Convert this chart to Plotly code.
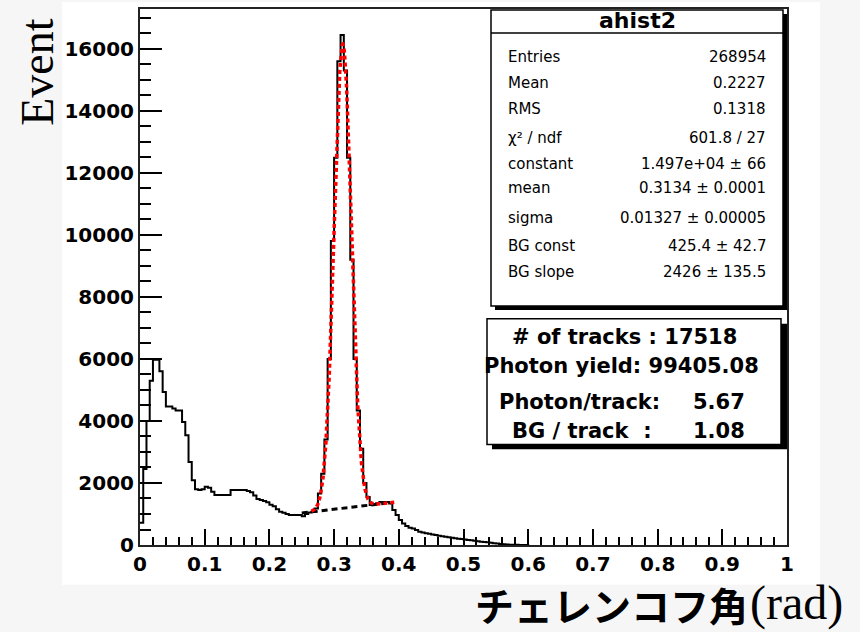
import numpy as np
import plotly.graph_objects as go

# ---------------- data ----------------
BIN_WIDTH = 0.005
counts = [
    720, 2450, 4000, 5300, 5970, 5970, 5600, 4930, 4470, 4470,
    4400, 4340, 4340, 3965, 3540, 2680, 2090, 1800, 1770, 1800,
    1880, 1850, 1715, 1610, 1610, 1610, 1610, 1610, 1770, 1770,
    1770, 1770, 1770, 1740, 1700, 1600, 1480, 1450, 1420, 1380,
    1300, 1250, 1150, 1070, 1040, 1000, 965, 965, 965, 965,
    930, 1000, 1050, 1070, 1180, 1660, 2300, 3400, 6000, 9800,
    12490, 15600, 16450, 15300, 12490, 9200, 6000, 4340, 3100, 2000,
    1550, 1290, 1300, 1350, 1390, 1390, 1390, 1340, 1125, 965,
    804, 697, 611, 560, 536, 480, 429, 400, 375, 360,
    340, 322, 300, 280, 268, 250, 230, 214, 200, 190,
    175, 161, 150, 140, 120, 107, 100, 90, 75, 60,
    45, 32, 25, 20, 12, 8, 5, 3, 2, 1,
]

# fit parameters (from the stats box)
fit_const = 1.497e4
fit_mean = 0.3134
fit_sigma = 0.01327
bg_const = 425.4
bg_slope = 2426.0
fit_range = [0.265, 0.395]
bg_range = [0.25, 0.38]

stats_labels = ["Entries", "Mean", "RMS", "χ² / ndf", "constant", "mean", "sigma", "BG const", "BG slope"]
stats_values = ["268954", "0.2227", "0.1318", "601.8 / 27", "1.497e+04 ± 66",
                "0.3134 ± 0.0001", "0.01327 ± 0.00005", "425.4 ± 42.7", "2426 ± 135.5"]
info_lines = ["# of tracks : 17518", "Photon yield: 99405.08"]
info_pairs = [("Photon/track:", "5.67"), ("BG / track\u00a0\u00a0:", "1.08")]

# ---------------- geometry helpers (pixels -> paper) ----------------
L, R, T, B = 140, 787, 7, 545
W, H = 860, 632
def px(x):
    return (x - L) / (R - L)
def py(y):
    return (B - y) / (B - T)

edges = [i * BIN_WIDTH for i in range(len(counts) + 1)]
hy = counts + [0]

fig = go.Figure()
fig.add_trace(go.Scatter(x=edges, y=hy, mode="lines", line=dict(color="black", width=2, shape="hv"),
                         showlegend=False, hoverinfo="skip"))

xb = np.linspace(bg_range[0], bg_range[1], 50)
fig.add_trace(go.Scatter(x=xb, y=bg_const + bg_slope * xb, mode="lines",
                         line=dict(color="black", width=3, dash="6px,4px"), showlegend=False))

xf = np.linspace(fit_range[0], fit_range[1], 400)
yf = fit_const * np.exp(-0.5 * ((xf - fit_mean) / fit_sigma) ** 2) + bg_const + bg_slope * xf
fig.add_trace(go.Scatter(x=xf, y=yf, mode="lines",
                         line=dict(color="red", width=3.5, dash="4px,3px"), showlegend=False))

shapes = []
# canvas
shapes.append(dict(type="rect", xref="paper", yref="paper", x0=px(62), x1=px(820), y0=py(0), y1=py(585),
                   fillcolor="white", line=dict(width=0), layer="below"))
# stats box
shapes.append(dict(type="rect", xref="paper", yref="paper", x0=px(495), x1=px(787), y0=py(309), y1=py(12),
                   fillcolor="black", line=dict(width=0)))
shapes.append(dict(type="rect", xref="paper", yref="paper", x0=px(491), x1=px(783), y0=py(305), y1=py(8),
                   fillcolor="white", line=dict(color="black", width=1.5)))
shapes.append(dict(type="line", xref="paper", yref="paper", x0=px(491), x1=px(783), y0=py(31), y1=py(31),
                   line=dict(color="black", width=1.5)))
# info box
shapes.append(dict(type="rect", xref="paper", yref="paper", x0=px(492), x1=px(787), y0=py(449), y1=py(323),
                   fillcolor="black", line=dict(width=0)))
shapes.append(dict(type="rect", xref="paper", yref="paper", x0=px(487), x1=px(781), y0=py(444), y1=py(318),
                   fillcolor="white", line=dict(color="black", width=1.5)))

ann = []
sf = dict(family="DejaVu Sans", size=15, color="black")
ann.append(dict(text="ahist2", x=px(637), y=py(19), xref="paper", yref="paper", showarrow=False,
                xanchor="center", yanchor="middle",
                font=dict(family="DejaVu Sans", size=22, color="black", weight="bold")))
row_y = [55, 81, 107, 136, 163, 187, 217, 245, 271]
for lab, val, yy in zip(stats_labels, stats_values, row_y):
    ann.append(dict(text=lab, x=px(506), y=py(yy), xref="paper", yref="paper", showarrow=False,
                    xanchor="left", yanchor="middle", font=sf))
    ann.append(dict(text=val, x=px(768), y=py(yy), xref="paper", yref="paper", showarrow=False,
                    xanchor="right", yanchor="middle", font=sf))

bf = dict(family="DejaVu Sans", size=21, color="black", weight="bold")
for txt, cx, yy in zip(info_lines, [624, 621], [336, 365]):
    ann.append(dict(text=txt, x=px(cx), y=py(yy), xref="paper", yref="paper", showarrow=False,
                    xanchor="center", yanchor="middle", font=bf))
for (lab, val), yy, lx in zip(info_pairs, [401, 431], [579, 582]):
    ann.append(dict(text=lab, x=px(lx), y=py(yy), xref="paper", yref="paper", showarrow=False,
                    xanchor="center", yanchor="middle", font=bf))
    ann.append(dict(text=val, x=px(747), y=py(yy), xref="paper", yref="paper", showarrow=False,
                    xanchor="right", yanchor="middle", font=bf))

# axis titles
ann.append(dict(text="Event", x=px(38), y=py(70), xref="paper", yref="paper", showarrow=False,
                textangle=-90, xanchor="center", yanchor="middle",
                font=dict(family="Liberation Serif", size=46, color="black")))
ann.append(dict(text="チェレンコフ角", x=px(750), y=py(604), xref="paper", yref="paper", showarrow=False,
                xanchor="right", yanchor="middle",
                font=dict(family="Noto Sans CJK JP", size=39, color="black", weight="bold")))
ann.append(dict(text="(rad)", x=px(748), y=py(603), xref="paper", yref="paper", showarrow=False,
                xanchor="left", yanchor="middle",
                font=dict(family="Liberation Serif", size=48, color="black")))

tickfont = dict(family="DejaVu Sans", size=20, color="black", weight="bold")
fig.update_layout(
    width=W, height=H,
    margin=dict(l=L, r=W - R, t=T, b=H - B, pad=0),
    paper_bgcolor="#f6f6f6", plot_bgcolor="white",
    shapes=shapes, annotations=ann,
    xaxis=dict(range=[0, 1], dtick=0.1, tick0=0, ticks="inside", ticklen=16, tickwidth=1.5,
               tickcolor="black", showgrid=False, zeroline=False, showline=True, linecolor="#222",
               linewidth=2, mirror=True, tickfont=tickfont,
               minor=dict(dtick=0.02, ticks="inside", ticklen=8, tickwidth=1.5, tickcolor="black",
                          showgrid=False)),
    yaxis=dict(range=[0, 17285], dtick=2000, tick0=0, ticks="inside", ticklen=22, tickwidth=1.5,
               tickcolor="black", showgrid=False, zeroline=False, showline=True, linecolor="#222",
               linewidth=2, mirror=True, tickfont=tickfont, tickformat="d",
               minor=dict(dtick=500, ticks="inside", ticklen=11, tickwidth=1.5, tickcolor="black",
                          showgrid=False)),
)

fig.write_html("out.html")
